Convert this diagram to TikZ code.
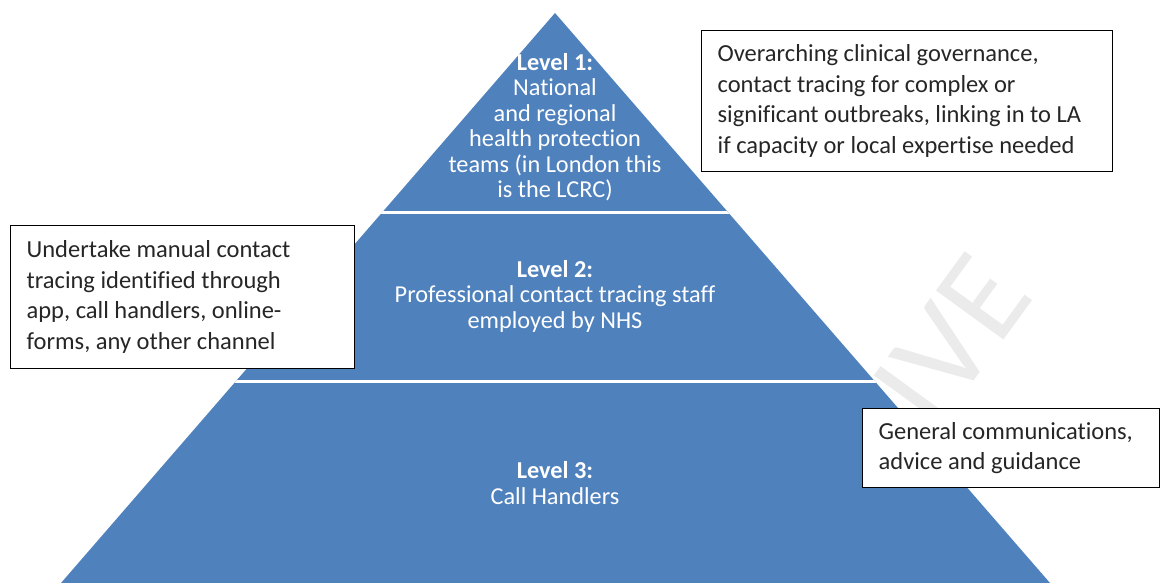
\documentclass[tikz,border=0pt]{standalone}
\usepackage{fontspec}
\setmainfont{Carlito}[Ligatures=NoCommon]
\usepackage{tikz}
\usetikzlibrary{positioning}
\definecolor{levelblue}{HTML}{4F81BD}

\begin{document}
\begin{tikzpicture}[
  x=1pt, y=-1pt,
  level text/.style={text=white, align=center, font=\fontsize{24.3}{25.5}\selectfont},
  note box/.style={draw=black, line width=1.3pt, fill=white, align=flush left, anchor=north west,
    inner xsep=16pt, inner ysep=0pt, text=black!85, font=\fontsize{24.5}{30.5}\selectfont},
  watermark/.style={rotate=54, text=black!8, font=\fontsize{130}{130}\selectfont}
]
  \useasboundingbox (0,0) rectangle (1161,583);

  \node[watermark] (wm) at (952,340) {IVE};

  % pyramid with white bands
  \fill[levelblue] (555,13) -- (1050,583) -- (61,583) -- cycle;
  \begin{scope}
    \clip (555,13) -- (1050,583) -- (61,583) -- cycle;
    \draw[white, line width=3pt] (0,212.5) -- (1161,212.5);
    \draw[white, line width=3pt] (0,381.5) -- (1161,381.5);
  \end{scope}

  \node[level text] (l1) at (555,127) {\textbf{Level 1:}\\National\\and regional\\health protection\\teams (in London this\\is the LCRC)};
  \node[level text] (l2) at (555,296) {\textbf{Level 2:}\\Professional contact tracing staff\\employed by NHS};
  \node[level text] (l3) at (555,483) {\textbf{Level 3:}\\Call Handlers};

  % notes
  \node[note box, text width=379pt, minimum height=141pt] (n1) at (701,30)
    {Overarching clinical governance,\\contact tracing for complex or\\significant outbreaks, linking in to LA\\if capacity or local expertise needed};
  \node[note box, text width=312pt, minimum height=143pt] (n2) at (10,225)
    {Undertake manual contact\\tracing identified through\\app, call handlers, online-\\forms, any other channel};
  \node[note box, text width=265pt, minimum height=79pt] (n3) at (862,408)
    {General communications,\\advice and guidance};
\end{tikzpicture}
\end{document}
